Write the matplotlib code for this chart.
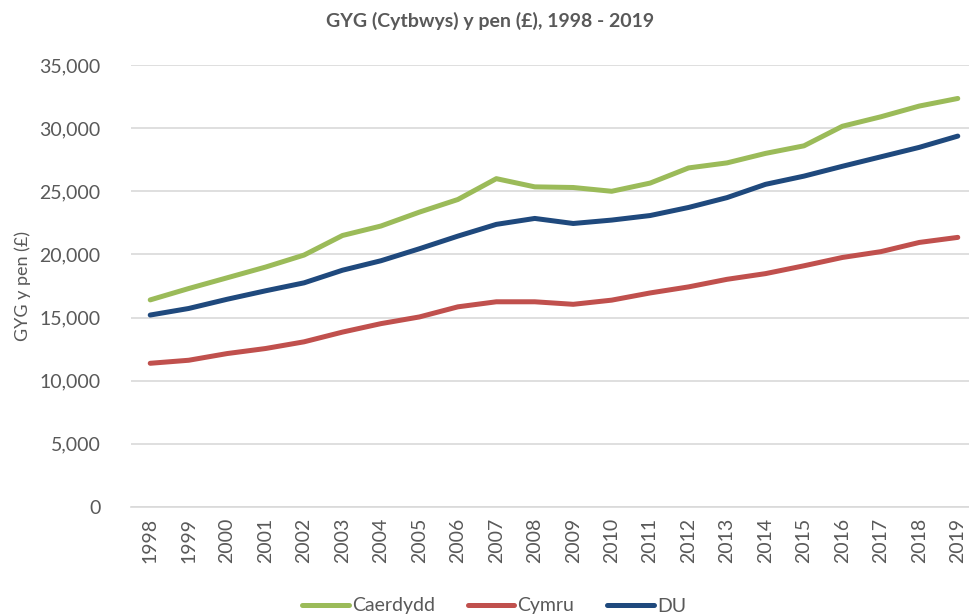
import matplotlib
matplotlib.use("Agg")
import matplotlib.pyplot as plt
from matplotlib.ticker import FuncFormatter, MultipleLocator

years = [str(y) for y in range(1998, 2020)]
caerdydd = [16400, 17300, 18150, 19000, 19950, 21500, 22250, 23350, 24350, 26000,
            25350, 25300, 25000, 25650, 26850, 27250, 28000, 28600, 30150, 30900,
            31750, 32350]
cymru = [11380, 11620, 12150, 12550, 13080, 13850, 14520, 15050, 15850, 16250,
         16250, 16050, 16380, 16950, 17430, 18030, 18480, 19100, 19760, 20220,
         20950, 21350]
du = [15200, 15720, 16450, 17120, 17750, 18750, 19500, 20450, 21450, 22380,
      22850, 22450, 22720, 23080, 23720, 24500, 25550, 26200, 26980, 27730,
      28480, 29370]
series_names = ["Caerdydd", "Cymru", "DU"]
colors = ["#9BBB59", "#C0504D", "#1F497D"]
title = "GYG (Cytbwys) y pen (£), 1998 - 2019"
ylabel = "GYG y pen (£)"

plt.rcParams['font.family'] = ['Lato', 'DejaVu Sans']

fig = plt.figure(figsize=(9.69, 6.14), dpi=100)
ax = fig.add_axes([131/969, 1-507/614, (977-131)/969, (507-65)/614])

x = list(range(len(years)))
for vals, name, c in zip([caerdydd, cymru, du], series_names, colors):
    ax.plot(x, vals, color=c, lw=3.6, label=name, solid_capstyle='round')

ax.set_xlim(-0.5, len(years) - 0.5)
ax.set_ylim(0, 35000)
ax.yaxis.set_major_locator(MultipleLocator(5000))
ax.yaxis.set_major_formatter(FuncFormatter(lambda v, p: f"{int(v):,}"))
ax.set_xticks(x)
ax.set_xticklabels(years, rotation=90)
ax.grid(axis='y', color='#D9D9D9', lw=1.2)
ax.set_axisbelow(True)
for s in ['top', 'right', 'left']:
    ax.spines[s].set_visible(False)
ax.spines['bottom'].set_color('#D9D9D9')
ax.spines['bottom'].set_linewidth(1.2)
ax.tick_params(axis='both', length=0, labelsize=14, colors='#595959', pad=8)
ax.tick_params(axis='y', pad=22)

ax.set_ylabel(ylabel, fontsize=13, color='#595959')
ax.yaxis.set_label_coords(-0.118, 0.5)

fig.text(490/969, 1-21/614, title, ha='center', va='center', fontsize=14,
         fontweight='bold', color='#595959')

fig.legend(loc='center', bbox_to_anchor=(494/969, 1-606/614), ncol=3, frameon=False,
           fontsize=14, handlelength=2.4, columnspacing=1.7, handletextpad=0.15,
           labelcolor='#595959')

fig.savefig("out.png", dpi=100)
